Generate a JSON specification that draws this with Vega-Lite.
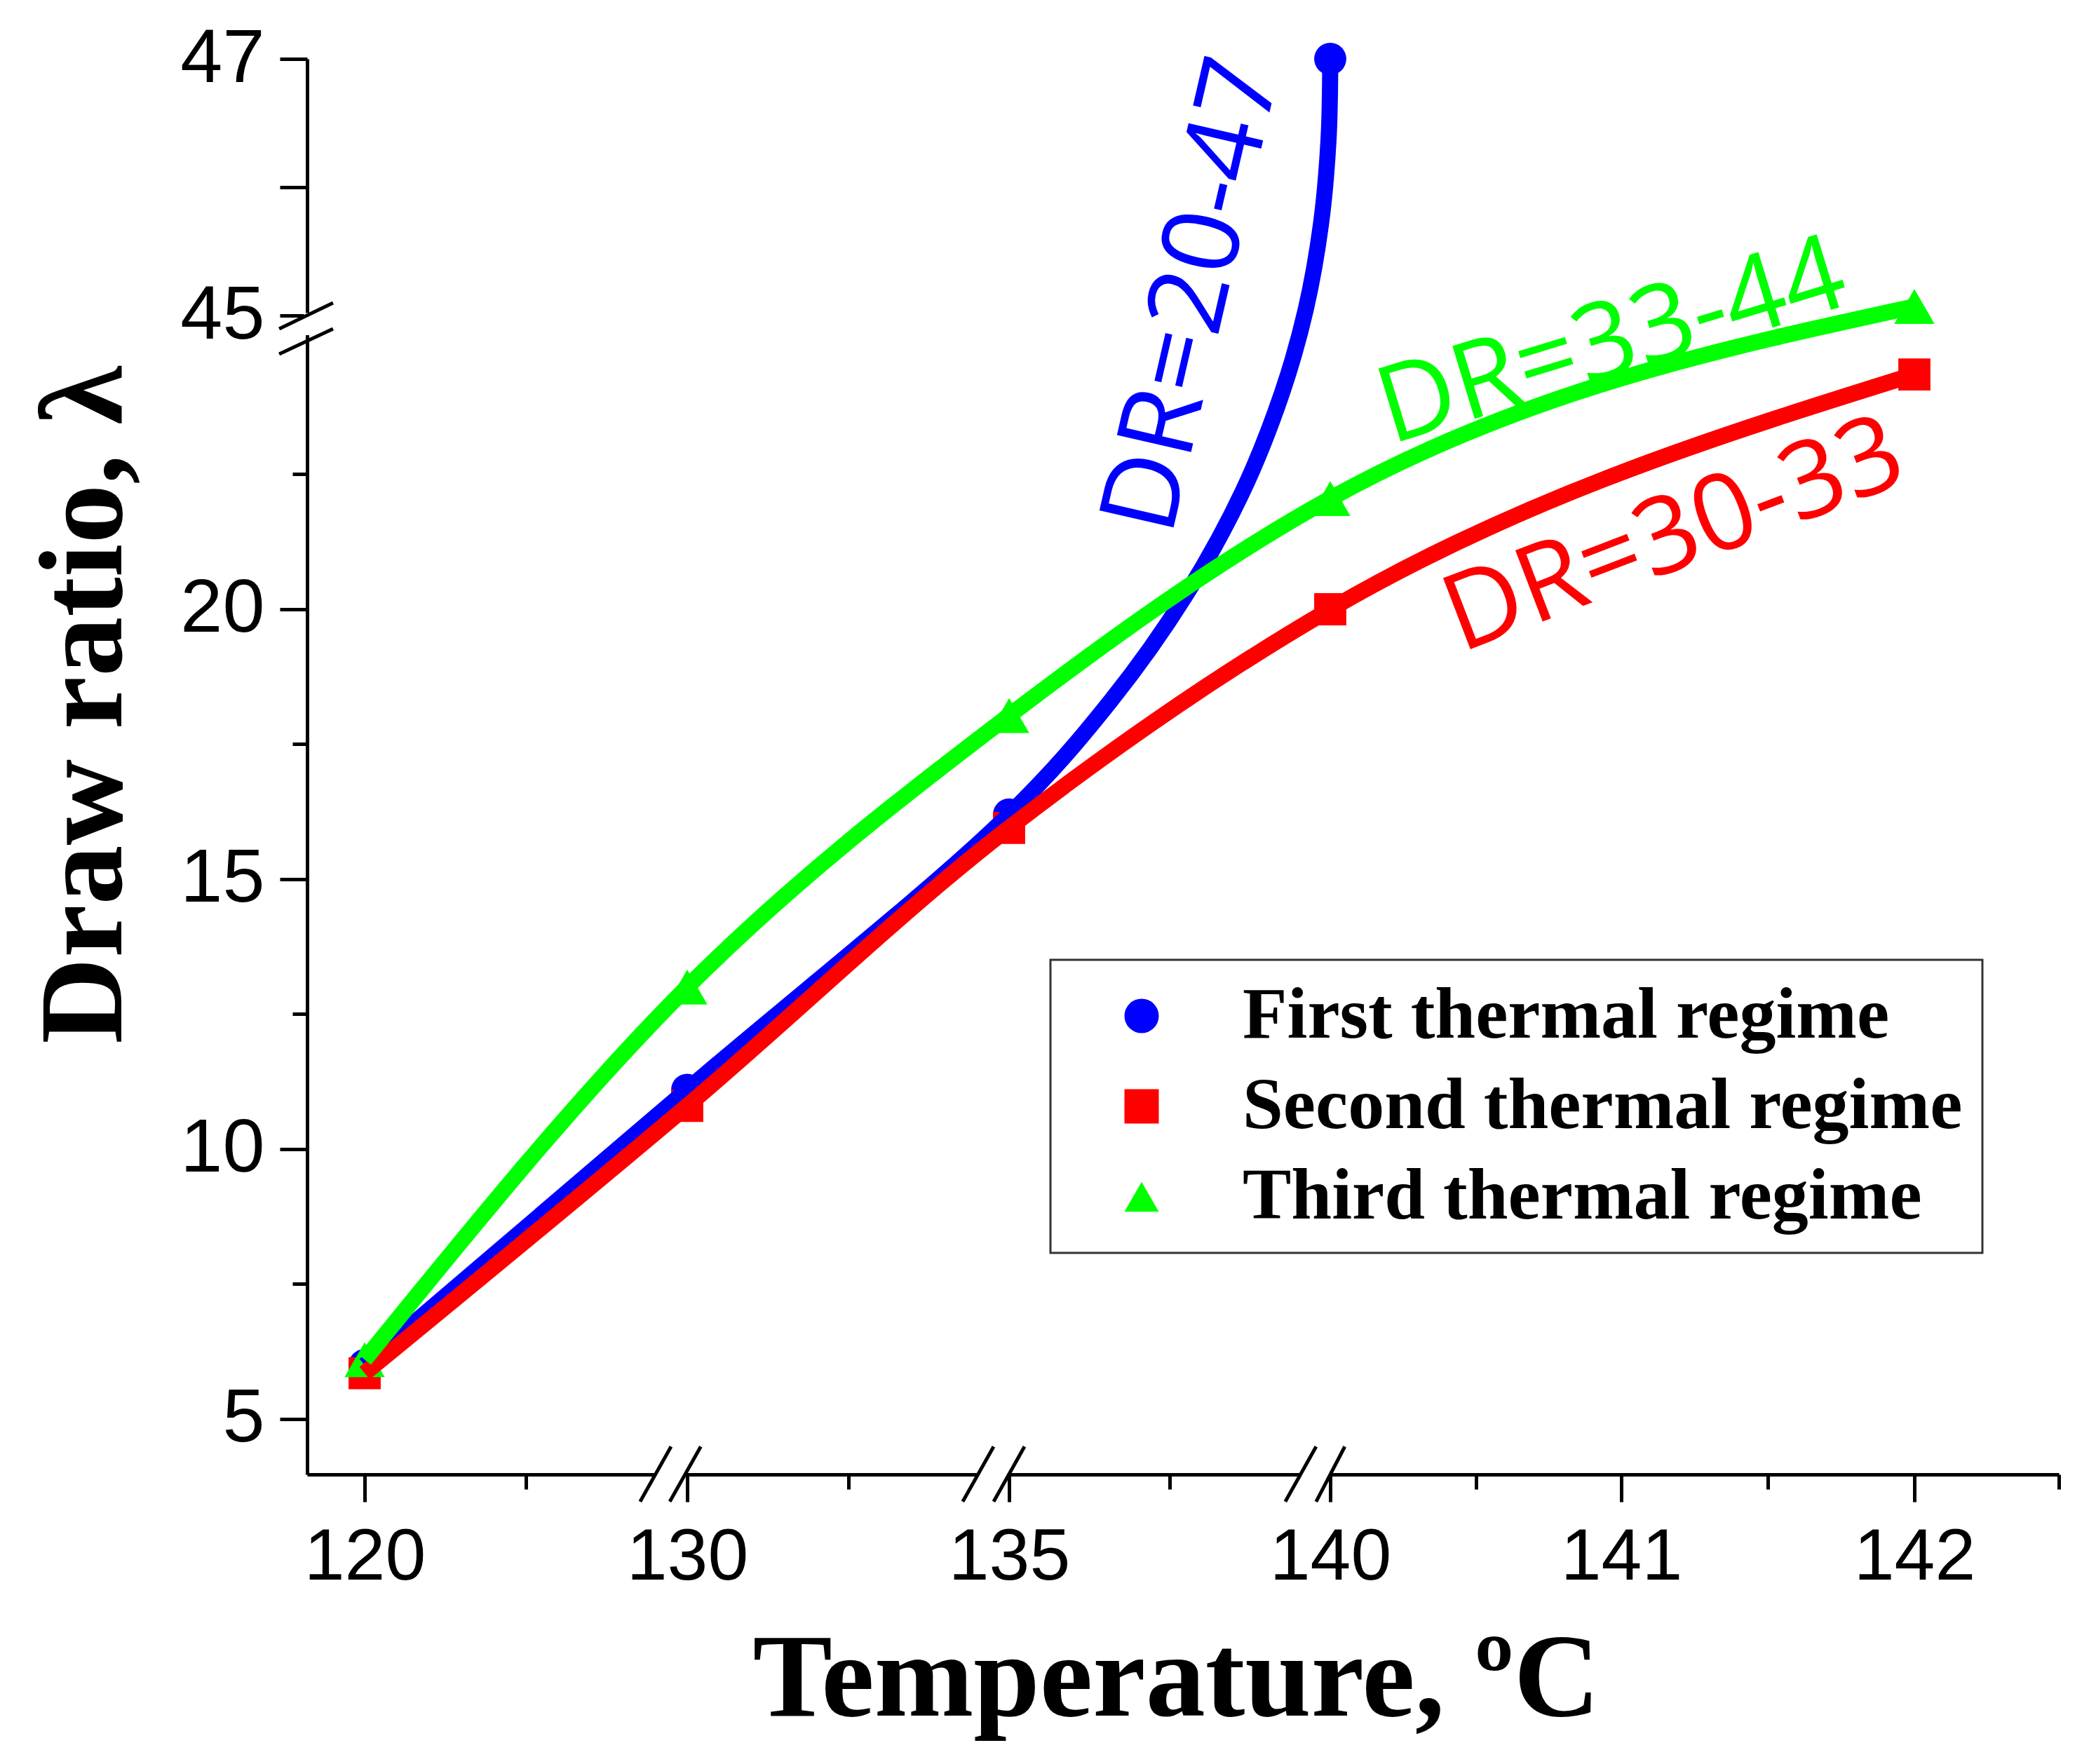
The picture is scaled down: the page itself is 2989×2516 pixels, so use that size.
{
  "$schema": "https://vega.github.io/schema/vega-lite/v6.json",
  "width": 2498,
  "height": 2019,
  "autosize": "none",
  "padding": {"left": 438, "top": 84, "right": 53, "bottom": 413},
  "background": "white",
  "config": {
    "view": {"stroke": null},
    "axis": {
      "domainColor": "black", "domainWidth": 5, "tickColor": "black", "tickWidth": 5,
      "grid": false, "labelFont": "Liberation Sans", "labelColor": "black",
      "titleFont": "Liberation Serif", "titleFontWeight": "bold", "titleColor": "black"
    },
    "legend": {
      "labelFont": "Liberation Serif", "labelFontWeight": "bold", "labelFontSize": 104, "labelColor": "black",
      "symbolSize": 2400, "symbolStrokeWidth": 0, "symbolOpacity": 1,
      "padding": 28, "rowPadding": 25, "symbolOffset": 50, "labelOffset": 92,
      "strokeColor": "#333333", "strokeWidth": 3, "fillColor": "white", "labelLimit": 3000
    }
  },
  "datasets": {
    "markers": [
      {"series": "First thermal regime", "temp": 120, "ratio": 6.0},
      {"series": "First thermal regime", "temp": 130, "ratio": 11.1},
      {"series": "First thermal regime", "temp": 135, "ratio": 16.2},
      {"series": "First thermal regime", "temp": 140, "ratio": 47},
      {"series": "Second thermal regime", "temp": 120, "ratio": 5.85},
      {"series": "Second thermal regime", "temp": 130, "ratio": 10.8},
      {"series": "Second thermal regime", "temp": 135, "ratio": 15.95},
      {"series": "Second thermal regime", "temp": 140, "ratio": 20.0},
      {"series": "Second thermal regime", "temp": 142, "ratio": 24.35},
      {"series": "Third thermal regime", "temp": 120, "ratio": 6.1},
      {"series": "Third thermal regime", "temp": 130, "ratio": 13.0},
      {"series": "Third thermal regime", "temp": 135, "ratio": 18.03},
      {"series": "Third thermal regime", "temp": 140, "ratio": 22.05},
      {"series": "Third thermal regime", "temp": 142, "ratio": 45.07}
    ],
    "curves": [
      {"series": "First thermal regime", "temp": 120, "ratio": 6.0},
      {"series": "First thermal regime", "temp": 130, "ratio": 11.1},
      {"series": "First thermal regime", "temp": 135, "ratio": 16.2},
      {"series": "First thermal regime", "temp": 136.58, "ratio": 18.30},
      {"series": "First thermal regime", "temp": 137.75, "ratio": 20.26},
      {"series": "First thermal regime", "temp": 138.64, "ratio": 22.19},
      {"series": "First thermal regime", "temp": 139.25, "ratio": 24.01},
      {"series": "First thermal regime", "temp": 139.62, "ratio": 45.05},
      {"series": "First thermal regime", "temp": 139.855, "ratio": 45.71},
      {"series": "First thermal regime", "temp": 139.973, "ratio": 46.37},
      {"series": "First thermal regime", "temp": 140, "ratio": 47},
      {"series": "Second thermal regime", "temp": 120, "ratio": 5.85},
      {"series": "Second thermal regime", "temp": 130, "ratio": 10.8},
      {"series": "Second thermal regime", "temp": 135, "ratio": 15.95},
      {"series": "Second thermal regime", "temp": 140, "ratio": 20.0},
      {"series": "Second thermal regime", "temp": 142, "ratio": 24.35},
      {"series": "Third thermal regime", "temp": 120, "ratio": 6.1},
      {"series": "Third thermal regime", "temp": 130, "ratio": 13.0},
      {"series": "Third thermal regime", "temp": 135, "ratio": 18.03},
      {"series": "Third thermal regime", "temp": 140, "ratio": 22.05},
      {"series": "Third thermal regime", "temp": 142, "ratio": 45.07}
    ],
    "slashes": [
      {"t1": 128.54, "t2": 129.50, "r1": 3.47, "r2": 4.49},
      {"t1": 129.46, "t2": 130.21, "r1": 3.47, "r2": 4.49},
      {"t1": 134.28, "t2": 134.76, "r1": 3.47, "r2": 4.49},
      {"t1": 134.76, "t2": 135.24, "r1": 3.47, "r2": 4.49},
      {"t1": 139.30, "t2": 139.78, "r1": 3.47, "r2": 4.49},
      {"t1": 139.78, "t2": 140.05, "r1": 3.47, "r2": 4.49},
      {"t1": 117.35, "t2": 119.02, "r1": 44.896, "r2": 45.098},
      {"t1": 117.35, "t2": 119.02, "r1": 24.727, "r2": 44.896}
    ],
    "xgaps": [
      {"t1": 129.02, "t2": 129.93, "r": 3.974},
      {"t1": 134.52, "t2": 135.0, "r": 3.974},
      {"t1": 139.54, "t2": 140.0, "r": 3.974}
    ],
    "ygaps": [
      {"t": 118.217, "r1": 45.02, "r2": 44.0}
    ]
  },
  "layer": [
    {
      "data": {"name": "xgaps"},
      "mark": {"type": "rule", "color": "white", "strokeWidth": 9},
      "encoding": {
        "x": {"field": "t1", "type": "quantitative",
          "scale": {"type": "linear", "domain": [118.217, 120, 130, 135, 140, 141, 142, 142.5], "range": [0, 82, 542, 1001, 1459, 1874, 2292, 2498], "zero": false, "nice": false},
          "axis": {"orient": "bottom", "values": [125, 132.5, 137.5, 140.5, 141.5, 142.5], "tickSize": 21, "labels": false, "domain": false, "title": null}},
        "x2": {"field": "t2"},
        "y": {"field": "r", "type": "quantitative",
          "scale": {"type": "linear", "domain": [3.974, 24.9, 44.85, 47], "range": [2019, 407.7, 393.5, 0], "zero": false, "nice": false},
          "axis": null}
      }
    },
    {
      "data": {"name": "ygaps"},
      "mark": {"type": "rule", "color": "white", "strokeWidth": 9},
      "encoding": {
        "x": {"field": "t", "type": "quantitative",
          "scale": {"type": "linear", "domain": [118.217, 120, 130, 135, 140, 141, 142, 142.5], "range": [0, 82, 542, 1001, 1459, 1874, 2292, 2498], "zero": false, "nice": false},
          "axis": null},
        "y": {"field": "r1", "type": "quantitative",
          "scale": {"type": "linear", "domain": [3.974, 24.9, 44.85, 47], "range": [2019, 407.7, 393.5, 0], "zero": false, "nice": false},
          "axis": {"orient": "left", "values": [7.5, 12.5, 17.5, 22.5], "tickSize": 21, "labels": false, "domain": false, "title": null}},
        "y2": {"field": "r2"}
      }
    },
    {
      "data": {"name": "markers"},
      "transform": [{"filter": "datum.series != 'Third thermal regime'"}],
      "mark": {"type": "point", "filled": true, "opacity": 1, "size": 2100},
      "encoding": {
        "x": {"field": "temp", "type": "quantitative",
          "scale": {"type": "linear", "domain": [118.217, 120, 130, 135, 140, 141, 142, 142.5], "range": [0, 82, 542, 1001, 1459, 1874, 2292, 2498], "zero": false, "nice": false},
          "axis": {"orient": "bottom", "values": [120, 130, 135, 140, 141, 142], "format": "d", "tickSize": 39, "labelFontSize": 104, "labelPadding": 28, "labelFlush": false, "labelOverlap": false,
            "title": "Temperature, ºC", "titleFontSize": 170, "titleX": 1239, "titleY": 343, "titleBaseline": "alphabetic", "titleAlign": "center"}},
        "y": {"field": "ratio", "type": "quantitative",
          "scale": {"type": "linear", "domain": [3.974, 24.9, 44.85, 47], "range": [2019, 407.7, 393.5, 0], "zero": false, "nice": false},
          "axis": {"orient": "left", "values": [5, 10, 15, 20, 45, 46, 47], "format": "d", "labelExpr": "datum.value == 46 ? '' : datum.label", "tickSize": 39, "labelFontSize": 108, "labelPadding": 22, "labelFlush": false, "labelOverlap": false,
            "title": "Draw ratio, λ", "titleFontSize": 170, "titleAngle": 270, "titleX": -266, "titleY": 921, "titleBaseline": "alphabetic", "titleAlign": "center"}},
        "color": {"field": "series", "type": "nominal",
          "scale": {"domain": ["First thermal regime", "Second thermal regime", "Third thermal regime"], "range": ["#0000ff", "#ff0000", "#00ff00"]},
          "legend": {"title": null, "orient": "none", "legendX": 1060, "legendY": 1285}},
        "shape": {"field": "series", "type": "nominal",
          "scale": {"domain": ["First thermal regime", "Second thermal regime", "Third thermal regime"], "range": ["circle", "square", "triangle-up"]},
          "legend": {"title": null, "orient": "none", "legendX": 1060, "legendY": 1285}}
      }
    },
    {
      "data": {"name": "markers"},
      "transform": [{"filter": "datum.series == 'Third thermal regime'"}],
      "mark": {"type": "point", "filled": true, "opacity": 1, "size": 3300},
      "encoding": {
        "x": {"field": "temp", "type": "quantitative",
          "scale": {"type": "linear", "domain": [118.217, 120, 130, 135, 140, 141, 142, 142.5], "range": [0, 82, 542, 1001, 1459, 1874, 2292, 2498], "zero": false, "nice": false},
          "axis": null},
        "y": {"field": "ratio", "type": "quantitative",
          "scale": {"type": "linear", "domain": [3.974, 24.9, 44.85, 47], "range": [2019, 407.7, 393.5, 0], "zero": false, "nice": false},
          "axis": null},
        "color": {"field": "series", "type": "nominal",
          "scale": {"domain": ["First thermal regime", "Second thermal regime", "Third thermal regime"], "range": ["#0000ff", "#ff0000", "#00ff00"]},
          "legend": {"title": null, "orient": "none", "legendX": 1060, "legendY": 1285}},
        "shape": {"field": "series", "type": "nominal",
          "scale": {"domain": ["First thermal regime", "Second thermal regime", "Third thermal regime"], "range": ["circle", "square", "triangle-up"]},
          "legend": {"title": null, "orient": "none", "legendX": 1060, "legendY": 1285}}
      }
    },
    {
      "data": {"name": "curves"},
      "transform": [{"filter": "datum.series == 'First thermal regime'"}],
      "mark": {"type": "line", "interpolate": "catmull-rom", "strokeWidth": 23},
      "encoding": {
        "x": {"field": "temp", "type": "quantitative",
          "scale": {"type": "linear", "domain": [118.217, 120, 130, 135, 140, 141, 142, 142.5], "range": [0, 82, 542, 1001, 1459, 1874, 2292, 2498], "zero": false, "nice": false},
          "axis": null},
        "y": {"field": "ratio", "type": "quantitative",
          "scale": {"type": "linear", "domain": [3.974, 24.9, 44.85, 47], "range": [2019, 407.7, 393.5, 0], "zero": false, "nice": false},
          "axis": null},
        "color": {"field": "series", "type": "nominal",
          "scale": {"domain": ["First thermal regime", "Second thermal regime", "Third thermal regime"], "range": ["#0000ff", "#ff0000", "#00ff00"]},
          "legend": null}
      }
    },
    {
      "data": {"name": "curves"},
      "transform": [{"filter": "datum.series != 'First thermal regime'"}],
      "mark": {"type": "line", "interpolate": "monotone", "strokeWidth": 23},
      "encoding": {
        "x": {"field": "temp", "type": "quantitative",
          "scale": {"type": "linear", "domain": [118.217, 120, 130, 135, 140, 141, 142, 142.5], "range": [0, 82, 542, 1001, 1459, 1874, 2292, 2498], "zero": false, "nice": false},
          "axis": null},
        "y": {"field": "ratio", "type": "quantitative",
          "scale": {"type": "linear", "domain": [3.974, 24.9, 44.85, 47], "range": [2019, 407.7, 393.5, 0], "zero": false, "nice": false},
          "axis": null},
        "color": {"field": "series", "type": "nominal",
          "scale": {"domain": ["First thermal regime", "Second thermal regime", "Third thermal regime"], "range": ["#0000ff", "#ff0000", "#00ff00"]},
          "legend": null}
      }
    },
    {
      "data": {"name": "slashes"},
      "mark": {"type": "rule", "color": "black", "strokeWidth": 5},
      "encoding": {
        "x": {"field": "t1", "type": "quantitative",
          "scale": {"type": "linear", "domain": [118.217, 120, 130, 135, 140, 141, 142, 142.5], "range": [0, 82, 542, 1001, 1459, 1874, 2292, 2498], "zero": false, "nice": false},
          "axis": null},
        "x2": {"field": "t2"},
        "y": {"field": "r1", "type": "quantitative",
          "scale": {"type": "linear", "domain": [3.974, 24.9, 44.85, 47], "range": [2019, 407.7, 393.5, 0], "zero": false, "nice": false},
          "axis": null},
        "y2": {"field": "r2"}
      }
    },
    {
      "data": {"values": [{"label": "DR=20-47", "temp": 138.37, "ratio": 45.10}]},
      "mark": {"type": "text", "font": "Open Sans", "fontSize": 152, "angle": 283, "align": "center", "baseline": "alphabetic", "color": "#0000ff"},
      "encoding": {
        "x": {"field": "temp", "type": "quantitative", "axis": null,
          "scale": {"type": "linear", "domain": [118.217, 120, 130, 135, 140, 141, 142, 142.5], "range": [0, 82, 542, 1001, 1459, 1874, 2292, 2498], "zero": false, "nice": false}},
        "y": {"field": "ratio", "type": "quantitative", "axis": null,
          "scale": {"type": "linear", "domain": [3.974, 24.9, 44.85, 47], "range": [2019, 407.7, 393.5, 0], "zero": false, "nice": false}},
        "text": {"field": "label"}
      }
    },
    {
      "data": {"values": [{"label": "DR=33-44", "temp": 141.0, "ratio": 24.36}]},
      "mark": {"type": "text", "font": "Open Sans", "fontSize": 152, "angle": 343, "align": "center", "baseline": "alphabetic", "color": "#00ff00"},
      "encoding": {
        "x": {"field": "temp", "type": "quantitative", "axis": null,
          "scale": {"type": "linear", "domain": [118.217, 120, 130, 135, 140, 141, 142, 142.5], "range": [0, 82, 542, 1001, 1459, 1874, 2292, 2498], "zero": false, "nice": false}},
        "y": {"field": "ratio", "type": "quantitative", "axis": null,
          "scale": {"type": "linear", "domain": [3.974, 24.9, 44.85, 47], "range": [2019, 407.7, 393.5, 0], "zero": false, "nice": false}},
        "text": {"field": "label"}
      }
    },
    {
      "data": {"values": [{"label": "DR=30-33", "temp": 141.22, "ratio": 20.79}]},
      "mark": {"type": "text", "font": "Open Sans", "fontSize": 152, "angle": 339, "align": "center", "baseline": "alphabetic", "color": "#ff0000"},
      "encoding": {
        "x": {"field": "temp", "type": "quantitative", "axis": null,
          "scale": {"type": "linear", "domain": [118.217, 120, 130, 135, 140, 141, 142, 142.5], "range": [0, 82, 542, 1001, 1459, 1874, 2292, 2498], "zero": false, "nice": false}},
        "y": {"field": "ratio", "type": "quantitative", "axis": null,
          "scale": {"type": "linear", "domain": [3.974, 24.9, 44.85, 47], "range": [2019, 407.7, 393.5, 0], "zero": false, "nice": false}},
        "text": {"field": "label"}
      }
    }
  ],
  "resolve": {"axis": {"x": "independent", "y": "independent"}}
}
